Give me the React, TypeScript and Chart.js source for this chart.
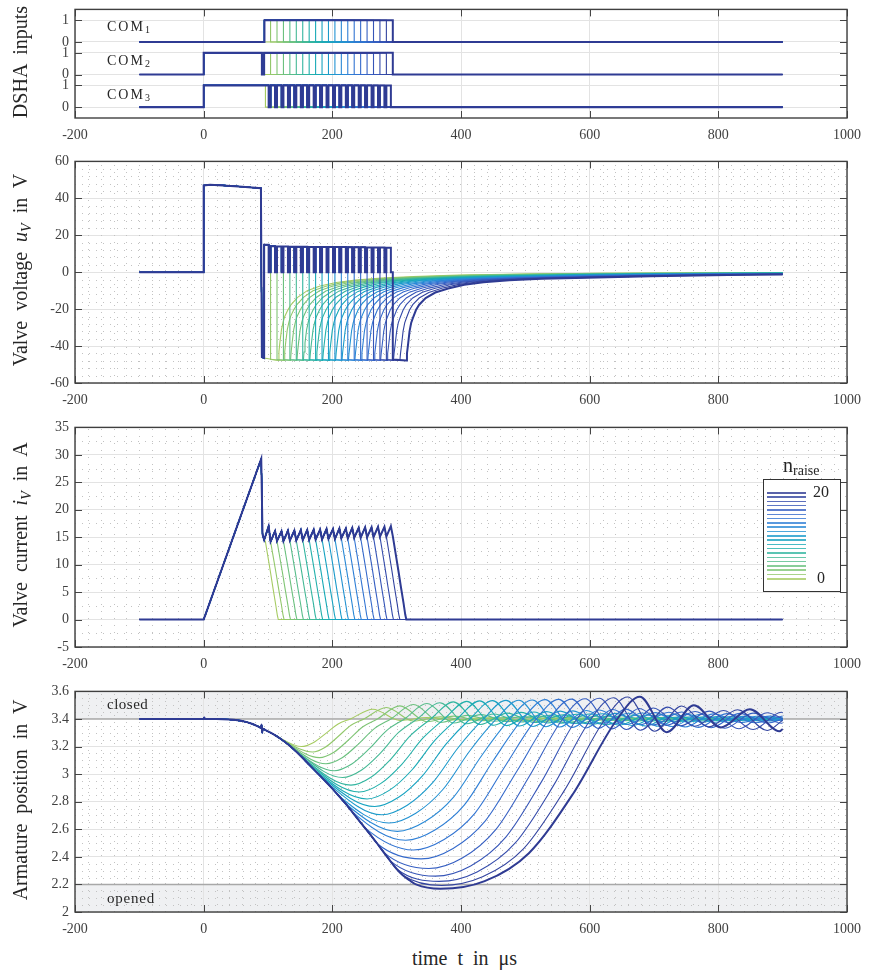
import React, { useEffect, useRef } from "react";
import { Chart, registerables } from "chart.js";
Chart.register(...registerables);

const FONT = "'Liberation Serif', 'Times New Roman', serif";

// ---------------- data ----------------
const nRaise = [0, 1, 2, 3, 4, 5, 6, 7, 8, 9, 10, 11, 12, 13, 14, 15, 16, 17, 18, 19, 20];
const curveColors = [
  "#a6cb62", "#93c86b", "#80c575", "#6cc17f", "#58bd8a", "#45b995", "#32b5a0",
  "#22b0ab", "#19aab6", "#18a3c1", "#1c9bcb", "#2392d2", "#2a89d6", "#2f7fd6",
  "#3274d2", "#3469cb", "#365fc2", "#3655b7", "#344bab", "#32439f", "#2f3b93",
];
const xTicks = [-200, 0, 200, 400, 600, 800, 1000];
const tStart = -100;
const tEnd = 900;

// DSHA inputs (stacked: COM3 at 0..1, COM2 at 1.5..2.5, COM1 at 3..4)
const dshaTicks = [0, 1, 1.5, 2.5, 3, 4];
const dshaTickLabels = ["0", "1", "0", "1", "0", "1"];
const com1Level = [3, 4];
const com2Level = [1.5, 2.5];
const com3Level = [0, 1];
const com1Rise = 94.5;
const com2DropT = 90.5;
const com2BackT = 94;
const com3DropNoPwm = 96;

// PWM timing (µs)
const pwmOn = [94, 104, 114, 124, 134, 144, 154, 164, 174, 184, 194, 204, 214, 224, 234, 244, 254, 264, 274, 284];
const pwmOff = [101, 111, 121, 131, 141, 151, 161, 171, 181, 191, 201, 211, 221, 231, 241, 251, 261, 271, 281, 291];
const releaseT = [94, 104, 114, 124, 134, 144, 154, 164, 174, 184, 194, 204, 214, 224, 234, 244, 254, 264, 274, 284, 294];
const currentZeroT = [116, 125, 135, 145, 155, 165, 175, 185, 195, 205, 215, 225, 235, 245, 255, 265, 275, 285, 295, 305, 315];

// Valve voltage
const voltTicks = [-60, -40, -20, 0, 20, 40, 60];
const voltBoostT = [0, 0, 10, 30, 60, 89];
const voltBoostV = [0, 47, 47.3, 47, 46.3, 45.5];
const voltDropT = [90.5, 94];
const voltDropV = [-46, -46.5];
const voltPwmHigh = [14.8, 14.0, 13.9, 13.9, 13.8, 13.8, 13.8, 13.7, 13.7, 13.7, 13.6, 13.6, 13.6, 13.5, 13.5, 13.5, 13.4, 13.4, 13.4, 13.3];
const voltReverse = -47.3;
const recDt = [0, 1, 2.5, 5, 7.5, 10, 15, 20, 30, 45, 65, 90, 120, 160, 210, 280, 380, 500, 650, 800];
const recLight = [-47.8, -43, -38, -31, -27, -24, -20.4, -17.5, -13.6, -10, -7.5, -5.6, -4.2, -3.2, -2.4, -1.6, -1.0, -0.6, -0.4, -0.3];
const recDark = [-47.8, -44, -39.8, -32, -27.5, -25, -20.5, -17.6, -14, -11, -8.8, -6.8, -5.4, -4.3, -3.6, -3.0, -2.2, -1.5, -1.0, -0.8];
const recMix = [0, 0.05, 0.1, 0.15, 0.2, 0.25, 0.3, 0.35, 0.4, 0.45, 0.5, 0.55, 0.6, 0.65, 0.7, 0.75, 0.8, 0.85, 0.9, 0.95, 1];

// Valve current
const currentTicks = [-5, 0, 5, 10, 15, 20, 25, 30, 35];
const curRampT = [0, 2.5, 89.5, 91.5];
const curRampV = [0, 0.8, 29.3, 15.5];
const curNoPwmT = [94, 96];
const curNoPwmV = [14.6, 14.2];
const curTrough = [14.5, 14.2, 14.3, 14.3, 14.4, 14.4, 14.5, 14.5, 14.6, 14.6, 14.7, 14.7, 14.8, 14.8, 14.9, 14.9, 15.0, 15.0, 15.1, 15.1, 15.2];
const curPeak = [17.0, 16.1, 16.1, 16.2, 16.2, 16.3, 16.3, 16.4, 16.4, 16.5, 16.5, 16.6, 16.6, 16.7, 16.7, 16.8, 16.8, 16.9, 16.9, 17.0];
const decU = [0, 0.2, 0.4, 0.6, 0.8, 0.92, 1];
const decW = [1, 0.8, 0.6, 0.39, 0.19, 0.06, 0];

// Armature position
const posTicks = [2, 2.2, 2.4, 2.6, 2.8, 3, 3.2, 3.4, 3.6];
const posClosed = 3.4;
const posOpened = 2.2;
const posCommonT = [-100, -50, 0, 1, 2, 20, 40, 60, 75, 85, 89, 90, 91, 92, 95, 100, 110, 120, 130, 140, 150, 160, 170, 180, 190, 200, 210, 220, 230, 240, 250, 260, 270, 280, 290, 300, 310, 320, 330, 340, 350];
const posCommonV = [3.4, 3.4, 3.4, 3.41, 3.4, 3.4, 3.396, 3.385, 3.365, 3.345, 3.335, 3.36, 3.3, 3.33, 3.322, 3.31, 3.285, 3.255, 3.22, 3.18, 3.135, 3.088, 3.04, 2.993, 2.945, 2.895, 2.843, 2.789, 2.731, 2.672, 2.614, 2.555, 2.495, 2.432, 2.371, 2.312, 2.265, 2.23, 2.2, 2.18, 2.172];
const posDepT = [110, 120, 120, 130, 140, 140, 150, 160, 170, 180, 190, 210, 220, 230, 250, 270, 280, 290, 300, 310, 330];
const posMinT = [152, 169, 180, 190, 203, 216, 229, 242, 254, 266, 277, 288, 301, 314, 326, 338, 350, 360, 366, 370, 368];
const posMinV = [3.2, 3.16, 3.12, 3.075, 3.025, 2.975, 2.92, 2.87, 2.82, 2.765, 2.705, 2.645, 2.585, 2.52, 2.45, 2.385, 2.315, 2.26, 2.222, 2.192, 2.168];
const posCrossT = [228, 249, 270, 291, 312, 332, 353, 374, 394, 414, 435, 455, 476, 496, 517, 537, 558, 580, 602, 624, 643];
const riseU = [0.25, 0.5, 0.75];
const riseW25 = [0.15, 0.145, 0.14, 0.135, 0.13, 0.125, 0.12, 0.115, 0.11, 0.105, 0.1, 0.095, 0.09, 0.085, 0.08, 0.075, 0.07, 0.065, 0.058, 0.052, 0.045];
const riseW50 = [0.48, 0.47, 0.455, 0.44, 0.425, 0.41, 0.395, 0.38, 0.365, 0.35, 0.335, 0.32, 0.305, 0.29, 0.28, 0.27, 0.26, 0.25, 0.235, 0.22, 0.21];
const riseW75 = [0.82, 0.81, 0.8, 0.79, 0.78, 0.77, 0.755, 0.74, 0.73, 0.715, 0.7, 0.69, 0.675, 0.66, 0.645, 0.63, 0.615, 0.6, 0.585, 0.57, 0.56];
const oscOffset = [0, 35, 77, 119, 161, 206, 252, 296, 340, 384, 428, 472, 516, 560, 604, 648, 692];
const oscShape = [0, 1, -0.59, 0.62, -0.38, 0.44, -0.55, 0.35, -0.25, 0.2, -0.15, 0.12, -0.1, 0.08, -0.06, 0.05, -0.04];
const oscAmp = [0.071, 0.083, 0.095, 0.105, 0.112, 0.118, 0.124, 0.128, 0.131, 0.133, 0.135, 0.136, 0.138, 0.14, 0.142, 0.144, 0.147, 0.15, 0.154, 0.159, 0.162];
const oscDamp = [0.25, 0.3, 0.35, 0.4, 0.45, 0.5, 0.55, 0.6, 0.62, 0.65, 0.68, 0.7, 0.72, 0.75, 0.78, 0.8, 0.83, 0.86, 0.9, 0.95, 1.0];

// ---------------- builders ----------------
type P = { x: number; y: number };

function clipEnd(pts: P[]): P[] {
  const out: P[] = [];
  for (let i = 0; i < pts.length; i++) {
    const p = pts[i];
    if (p.x <= tEnd) {
      out.push(p);
      continue;
    }
    const q = out[out.length - 1];
    const f = (tEnd - q.x) / (p.x - q.x);
    out.push({ x: tEnd, y: q.y + f * (p.y - q.y) });
    return out;
  }
  const last = out[out.length - 1];
  if (last.x < tEnd) out.push({ x: tEnd, y: last.y });
  return out;
}

function com1(k: number): P[] {
  const [lo, hi] = com1Level;
  const p: P[] = [{ x: tStart, y: lo }];
  if (k > 0) p.push({ x: com1Rise, y: lo }, { x: com1Rise, y: hi }, { x: releaseT[k], y: hi }, { x: releaseT[k], y: lo });
  p.push({ x: tEnd, y: lo });
  return p;
}
function com2(k: number): P[] {
  const [lo, hi] = com2Level;
  const p: P[] = [{ x: tStart, y: lo }, { x: 0, y: lo }, { x: 0, y: hi }, { x: com2DropT, y: hi }, { x: com2DropT, y: lo }];
  if (k > 0) p.push({ x: com2BackT, y: lo }, { x: com2BackT, y: hi }, { x: releaseT[k], y: hi }, { x: releaseT[k], y: lo });
  p.push({ x: tEnd, y: lo });
  return p;
}
function com3(k: number): P[] {
  const [lo, hi] = com3Level;
  const p: P[] = [{ x: tStart, y: lo }, { x: 0, y: lo }, { x: 0, y: hi }];
  if (k === 0) p.push({ x: com3DropNoPwm, y: hi }, { x: com3DropNoPwm, y: lo });
  for (let j = 0; j < k; j++) {
    p.push({ x: pwmOff[j], y: hi }, { x: pwmOff[j], y: lo });
    if (j < k - 1) p.push({ x: pwmOn[j + 1], y: lo }, { x: pwmOn[j + 1], y: hi });
  }
  p.push({ x: tEnd, y: lo });
  return p;
}

function volt(k: number): P[] {
  const p: P[] = [{ x: tStart, y: 0 }];
  voltBoostT.forEach((t, i) => p.push({ x: t, y: voltBoostV[i] }));
  voltDropT.forEach((t, i) => p.push({ x: t, y: voltDropV[i] }));
  for (let j = 0; j < k; j++) {
    p.push({ x: pwmOn[j], y: voltPwmHigh[j] }, { x: pwmOff[j], y: voltPwmHigh[j] }, { x: pwmOff[j], y: 0 }, { x: releaseT[j + 1], y: 0 });
  }
  if (k > 0) p.push({ x: releaseT[k], y: voltReverse });
  const r = currentZeroT[k];
  recDt.forEach((dt, i) => p.push({ x: r + dt, y: recLight[i] * (1 - recMix[k]) + recDark[i] * recMix[k] }));
  return clipEnd(p);
}

function current(k: number): P[] {
  const p: P[] = [{ x: tStart, y: 0 }];
  curRampT.forEach((t, i) => p.push({ x: t, y: curRampV[i] }));
  let t0: number, v0: number;
  if (k === 0) {
    curNoPwmT.forEach((t, i) => p.push({ x: t, y: curNoPwmV[i] }));
    t0 = curNoPwmT[curNoPwmT.length - 1];
    v0 = curNoPwmV[curNoPwmV.length - 1];
  } else {
    p.push({ x: pwmOn[0], y: curTrough[0] });
    for (let j = 0; j < k; j++) {
      p.push({ x: pwmOff[j], y: curPeak[j] }, { x: releaseT[j + 1], y: curTrough[j + 1] });
    }
    t0 = releaseT[k];
    v0 = curTrough[k];
  }
  const t1 = currentZeroT[k];
  decU.forEach((u, i) => {
    if (i === 0) return;
    p.push({ x: t0 + u * (t1 - t0), y: v0 * decW[i] });
  });
  p.push({ x: tEnd, y: 0 });
  return p;
}

function position(k: number): P[] {
  const p: P[] = [];
  posCommonT.forEach((t, i) => {
    if (t <= posDepT[k]) p.push({ x: t, y: posCommonV[i] });
  });
  p.push({ x: posMinT[k], y: posMinV[k] });
  const span = posCrossT[k] - posMinT[k];
  const rise = posClosed - posMinV[k];
  const ws = [riseW25[k], riseW50[k], riseW75[k]];
  riseU.forEach((u, i) => p.push({ x: posMinT[k] + u * span, y: posMinV[k] + ws[i] * rise }));
  oscOffset.forEach((o, j) =>
    p.push({ x: posCrossT[k] + o, y: posClosed + oscAmp[k] * oscShape[j] * (j >= 2 ? oscDamp[k] : 1) })
  );
  return clipEnd(p);
}

// ---------------- chart helpers ----------------
function lineDs(k: number, data: P[], smooth = false) {
  const ds: any = {
    data,
    borderColor: curveColors[k],
    borderWidth: k === 20 ? 2 : 1.1,
    pointRadius: 0,
    pointHoverRadius: 0,
    tension: 0,
    fill: false,
    order: 20 - k,
  };
  if (smooth) ds.cubicInterpolationMode = "monotone";
  return ds;
}

type FrameCfg = {
  yTicks: number[];
  minorX?: number;
  minorY?: number;
  yMin: number;
  yMax: number;
  yMajor?: number;
  bands?: number[][];
  marks?: number[];
};

function makeFrame(cfg: FrameCfg) {
  return {
    id: "frame",
    beforeDraw(chart: any) {
      if (!cfg.bands) return;
      const { ctx, chartArea: a } = chart;
      const y = chart.scales.y;
      ctx.save();
      ctx.fillStyle = "#eff0f2";
      cfg.bands.forEach(([lo, hi]) => {
        const y1 = y.getPixelForValue(hi);
        const y2 = y.getPixelForValue(lo);
        ctx.fillRect(a.left, y1, a.right - a.left, y2 - y1);
      });
      ctx.restore();
    },
    beforeDatasetsDraw(chart: any) {
      const { ctx, chartArea: a } = chart;
      const x = chart.scales.x;
      const y = chart.scales.y;
      ctx.save();
      ctx.strokeStyle = "#c2c2c2";
      ctx.lineWidth = 1;
      ctx.setLineDash([1, 6]);
      if (cfg.minorX) {
        const n = Math.round(1200 / cfg.minorX);
        for (let i = 1; i < n; i++) {
          const v = -200 + i * cfg.minorX;
          if (Math.abs(v / 200 - Math.round(v / 200)) < 1e-6) continue;
          const px = Math.round(x.getPixelForValue(v)) + 0.5;
          ctx.beginPath();
          ctx.moveTo(px, a.bottom);
          ctx.lineTo(px, a.top);
          ctx.stroke();
        }
      }
      if (cfg.minorY && cfg.yMajor) {
        const n = Math.round((cfg.yMax - cfg.yMin) / cfg.minorY);
        for (let i = 1; i < n; i++) {
          const v = cfg.yMin + i * cfg.minorY;
          const r = (v - cfg.yMin) / cfg.yMajor;
          if (Math.abs(r - Math.round(r)) < 1e-6) continue;
          const py = Math.round(y.getPixelForValue(v)) + 0.5;
          ctx.beginPath();
          ctx.moveTo(a.left, py);
          ctx.lineTo(a.right, py);
          ctx.stroke();
        }
      }
      ctx.setLineDash([]);
      if (cfg.marks) {
        ctx.strokeStyle = "#a8a8a8";
        ctx.lineWidth = 1.5;
        cfg.marks.forEach((v) => {
          const py = y.getPixelForValue(v);
          ctx.beginPath();
          ctx.moveTo(a.left, py);
          ctx.lineTo(a.right, py);
          ctx.stroke();
        });
      }
      ctx.restore();
    },
    afterDatasetsDraw(chart: any) {
      const { ctx, chartArea: a } = chart;
      const x = chart.scales.x;
      const y = chart.scales.y;
      ctx.save();
      ctx.strokeStyle = "#454545";
      ctx.lineWidth = 1;
      const tl = 7;
      ctx.beginPath();
      xTicks.forEach((v) => {
        const px = Math.round(x.getPixelForValue(v)) + 0.5;
        ctx.moveTo(px, a.bottom);
        ctx.lineTo(px, a.bottom - tl);
        ctx.moveTo(px, a.top);
        ctx.lineTo(px, a.top + tl);
      });
      cfg.yTicks.forEach((v) => {
        const py = Math.round(y.getPixelForValue(v)) + 0.5;
        ctx.moveTo(a.left, py);
        ctx.lineTo(a.left + tl, py);
        ctx.moveTo(a.right, py);
        ctx.lineTo(a.right - tl, py);
      });
      ctx.stroke();
      ctx.lineWidth = 1.4;
      ctx.strokeStyle = "#3f3f3f";
      ctx.strokeRect(a.left, a.top, a.right - a.left, a.bottom - a.top);
      ctx.restore();
    },
  };
}

function makeConfig(datasets: any[], cfg: FrameCfg, yLabel: (v: number) => string): any {
  const tickFont = { family: FONT, size: 14 };
  return {
    type: "line",
    data: { datasets },
    plugins: [makeFrame(cfg)],
    options: {
      responsive: false,
      maintainAspectRatio: false,
      animation: false,
      events: [],
      layout: { padding: { left: 0, right: 16, top: 10, bottom: 0 } },
      plugins: { legend: { display: false }, tooltip: { enabled: false } },
      scales: {
        x: {
          type: "linear",
          min: -200,
          max: 1000,
          afterBuildTicks: (s: any) => {
            s.ticks = xTicks.map((v) => ({ value: v }));
          },
          afterFit: (s: any) => {
            s.height = 30;
          },
          ticks: {
            font: tickFont,
            color: "#404040",
            padding: 9,
            maxRotation: 0,
            minRotation: 0,
            autoSkip: false,
            callback: (v: number) => String(v),
          },
          grid: { color: "#e3e3e3", lineWidth: 1, drawTicks: false },
          border: { display: false },
        },
        y: {
          type: "linear",
          min: cfg.yMin,
          max: cfg.yMax,
          afterBuildTicks: (s: any) => {
            s.ticks = cfg.yTicks.map((v) => ({ value: v }));
          },
          afterFit: (s: any) => {
            s.width = 75;
          },
          ticks: {
            font: tickFont,
            color: "#404040",
            padding: 6,
            autoSkip: false,
            callback: (v: number) => yLabel(v),
          },
          grid: { color: "#e3e3e3", lineWidth: 1, drawTicks: false },
          border: { display: false },
        },
      },
    },
  };
}

// panel layout (plot-area pixel rows)
const panelRows = [
  { top: 5, bottom: 118 },
  { top: 157, bottom: 383 },
  { top: 423, bottom: 647 },
  { top: 687, bottom: 912 },
];
const PAD_TOP = 10;
const X_AXIS_H = 30;

function YTitle({ cy, children }: { cy: number; children: any }) {
  return (
    <div
      style={{
        position: "absolute",
        left: 20,
        top: cy,
        transform: "translate(-50%, -50%) rotate(-90deg)",
        fontSize: 20,
        lineHeight: "20px",
        whiteSpace: "nowrap",
        wordSpacing: "5px",
        color: "#262626",
      }}
    >
      {children}
    </div>
  );
}

const subStyle: any = { fontSize: 14, lineHeight: 0, verticalAlign: "-4px" };

export default function App() {
  const r0 = useRef<HTMLCanvasElement>(null);
  const r1 = useRef<HTMLCanvasElement>(null);
  const r2 = useRef<HTMLCanvasElement>(null);
  const r3 = useRef<HTMLCanvasElement>(null);

  useEffect(() => {
    const dshaSets: any[] = [];
    nRaise.forEach((k) => {
      dshaSets.push(lineDs(k, com1(k)), lineDs(k, com2(k)), lineDs(k, com3(k)));
    });
    const voltSets = nRaise.map((k) => lineDs(k, volt(k)));
    const curSets = nRaise.map((k) => lineDs(k, current(k)));
    const posSets = nRaise.map((k) => lineDs(k, position(k), true));

    const charts = [
      new Chart(
        r0.current!,
        makeConfig(dshaSets, { yTicks: dshaTicks, yMin: -0.5, yMax: 4.5 }, (v) => dshaTickLabels[dshaTicks.indexOf(v)] ?? "")
      ),
      new Chart(
        r1.current!,
        makeConfig(voltSets, { yTicks: voltTicks, yMin: -60, yMax: 60, yMajor: 20, minorX: 20, minorY: 4 }, (v) => String(v))
      ),
      new Chart(
        r2.current!,
        makeConfig(curSets, { yTicks: currentTicks, yMin: -5, yMax: 35, yMajor: 5, minorX: 20, minorY: 2.5 }, (v) => String(v))
      ),
      new Chart(
        r3.current!,
        makeConfig(
          posSets,
          {
            yTicks: posTicks,
            yMin: 2,
            yMax: 3.6,
            yMajor: 0.2,
            minorX: 20,
            minorY: 0.05,
            bands: [
              [posClosed, 3.6],
              [2, posOpened],
            ],
            marks: [posClosed, posOpened],
          },
          (v) => String(Math.round(v * 10) / 10)
        )
      ),
    ];
    return () => charts.forEach((c) => c.destroy());
  }, []);

  const refs = [r0, r1, r2, r3];

  return (
    <div
      style={{
        position: "absolute",
        left: 0,
        top: 0,
        width: 870,
        height: 976,
        background: "#fff",
        overflow: "hidden",
        fontFamily: FONT,
        color: "#262626",
      }}
    >
      {panelRows.map((p, i) => {
        const h = p.bottom - p.top + PAD_TOP + X_AXIS_H;
        return (
          <canvas
            key={i}
            ref={refs[i]}
            width={870}
            height={h}
            style={{ position: "absolute", left: 0, top: p.top - PAD_TOP, width: 870, height: h }}
          />
        );
      })}

      {/* COM labels */}
      {[20, 54, 88].map((top, i) => (
        <div
          key={i}
          style={{ position: "absolute", left: 107, top, fontSize: 14, lineHeight: "14px", letterSpacing: "2px", whiteSpace: "nowrap" }}
        >
          COM<sub style={{ fontSize: 10, lineHeight: 0, verticalAlign: "-2px", letterSpacing: 0 }}>{i + 1}</sub>
        </div>
      ))}

      {/* closed / opened */}
      <div style={{ position: "absolute", left: 107, top: 697, fontSize: 15, lineHeight: "15px", letterSpacing: "0.5px" }}>closed</div>
      <div style={{ position: "absolute", left: 107, top: 890.5, fontSize: 15, lineHeight: "15px", letterSpacing: "0.8px" }}>opened</div>

      {/* legend */}
      <div style={{ position: "absolute", left: 783, top: 455, fontSize: 20, lineHeight: "20px", whiteSpace: "nowrap" }}>
        n<sub style={{ fontSize: 14, lineHeight: 0, verticalAlign: "-3px" }}>raise</sub>
      </div>
      <div
        style={{
          position: "absolute",
          left: 763,
          top: 479,
          width: 78,
          height: 113,
          border: "1px solid #333",
          background: "#fff",
          boxSizing: "border-box",
        }}
      >
        {nRaise
          .slice()
          .reverse()
          .map((n, i) => (
            <div
              key={n}
              style={{ position: "absolute", left: 3, top: 12 + i * 4.3, width: 39, height: 1.5, background: curveColors[n], opacity: 0.8 }}
            />
          ))}
        <div style={{ position: "absolute", left: 49, top: 4, fontSize: 16, lineHeight: "16px" }}>20</div>
        <div style={{ position: "absolute", left: 53, top: 90, fontSize: 16, lineHeight: "16px" }}>0</div>
      </div>

      {/* axis titles */}
      <YTitle cy={61.5}>DSHA inputs</YTitle>
      <YTitle cy={270}>
        Valve voltage <i>u</i>
        <sub style={subStyle}>
          <i>V</i>
        </sub>{" "}
        in V
      </YTitle>
      <YTitle cy={535}>
        Valve current <i>i</i>
        <sub style={subStyle}>
          <i>V</i>
        </sub>{" "}
        in A
      </YTitle>
      <YTitle cy={800}>Armature position in V</YTitle>
      <div
        style={{
          position: "absolute",
          left: 464.5,
          top: 948,
          transform: "translateX(-50%)",
          fontSize: 20,
          lineHeight: "20px",
          wordSpacing: "5px",
          whiteSpace: "nowrap",
        }}
      >
        time t in μs
      </div>
    </div>
  );
}
